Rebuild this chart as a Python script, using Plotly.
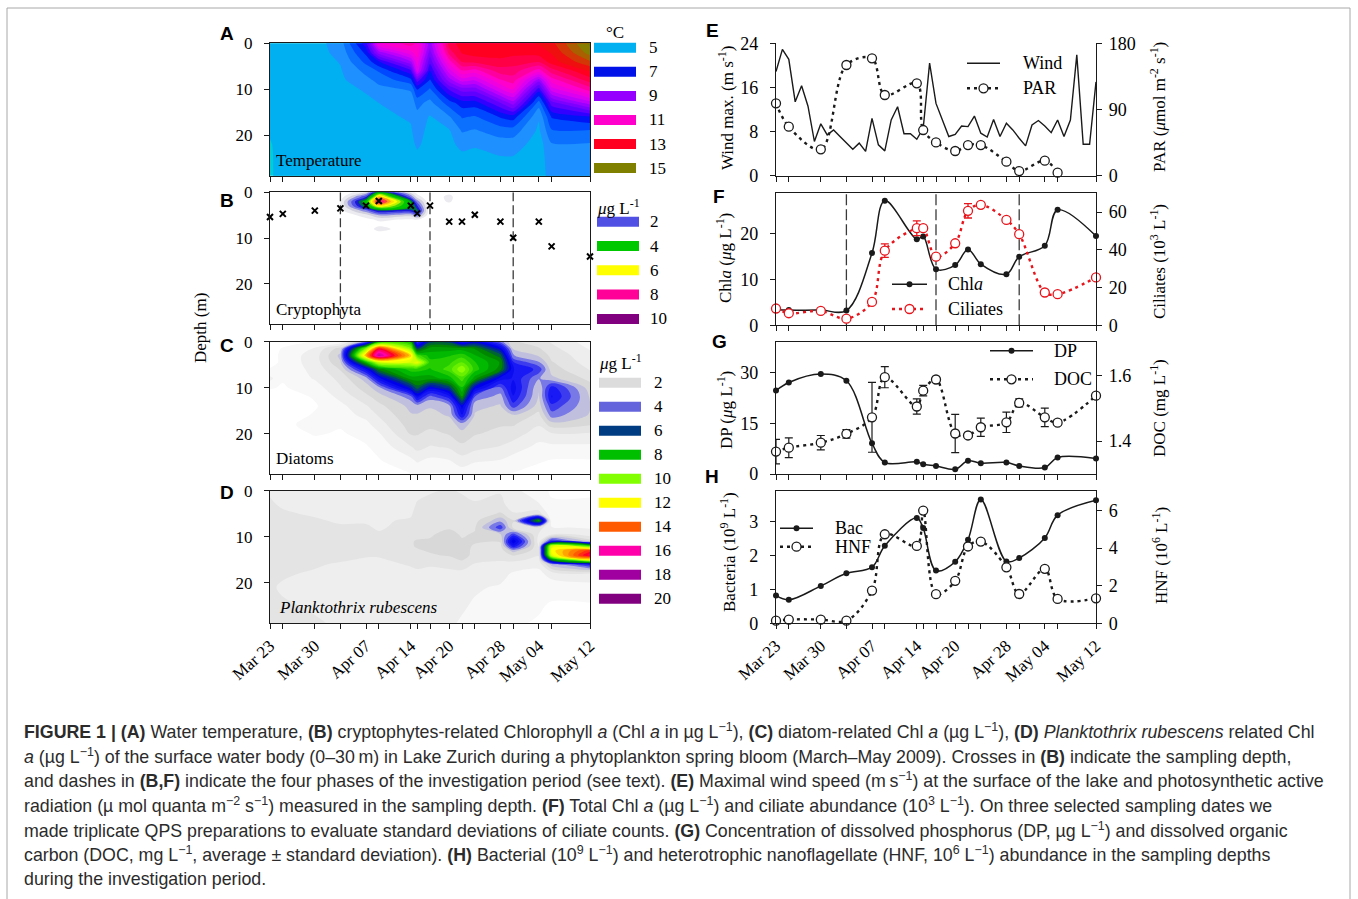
import numpy as np
import pandas as pd
import plotly.graph_objects as go

W, H = 1358, 899

# ---------------------------------------------------------------- data
sample_dates = ["2009-03-23", "2009-03-25", "2009-03-30", "2009-04-03", "2009-04-07",
                "2009-04-09", "2009-04-14", "2009-04-15", "2009-04-17", "2009-04-20",
                "2009-04-22", "2009-04-24", "2009-04-28", "2009-04-30", "2009-05-04",
                "2009-05-06", "2009-05-12"]
date_labels = {"2009-03-23": "Mar 23", "2009-03-30": "Mar 30", "2009-04-07": "Apr 07",
               "2009-04-14": "Apr 14", "2009-04-20": "Apr 20", "2009-04-28": "Apr 28",
               "2009-05-04": "May 04", "2009-05-12": "May 12"}
phase_dates = ["2009-04-03", "2009-04-17", "2009-04-30"]

# (A) water temperature (deg C), one profile per sampling date
temp_depths = [0, 2, 4, 6, 8, 10, 13, 16, 19, 22, 25, 29]
temp_profiles = [
    [5.1, 5.1, 5.05, 5.0, 5.0, 5.0, 4.95, 4.9, 4.8, 4.72, 4.7, 4.7],
    [5.15, 5.1, 5.05, 5.0, 5.0, 5.0, 4.95, 4.95, 4.9, 4.9, 4.9, 4.9],
    [5.05, 5.05, 5.0, 5.0, 5.0, 5.0, 4.95, 4.95, 4.95, 4.9, 4.9, 4.9],
    [5.5, 5.4, 5.28, 5.2, 5.15, 5.1, 5.05, 5.0, 5.0, 4.95, 4.95, 4.95],
    [7.6, 6.9, 6.4, 5.9, 5.6, 5.3, 5.15, 5.05, 5.0, 4.95, 4.95, 4.95],
    [10.8, 9.0, 7.2, 6.3, 5.9, 5.6, 5.25, 5.15, 5.05, 5.0, 4.95, 4.95],
    [11.5, 10.6, 9.2, 7.6, 6.6, 5.8, 5.5, 5.3, 5.2, 5.1, 5.0, 5.0],
    [11.2, 11.0, 10.5, 10.0, 8.0, 6.8, 5.9, 5.6, 5.45, 5.33, 5.1, 5.0],
    [9.0, 8.5, 7.9, 7.2, 6.7, 6.2, 5.6, 5.2, 5.1, 5.05, 5.0, 5.0],
    [12.5, 12.0, 11.0, 10.0, 9.0, 7.8, 6.5, 5.7, 5.2, 5.1, 5.0, 5.0],
    [13.0, 12.8, 12.3, 11.2, 10.0, 8.5, 7.0, 6.3, 5.8, 5.4, 5.1, 5.0],
    [13.2, 13.0, 12.4, 11.0, 9.8, 8.5, 7.0, 6.2, 5.7, 5.3, 5.1, 5.0],
    [13.2, 13.0, 12.6, 12.0, 11.2, 10.2, 8.2, 6.8, 6.0, 5.5, 5.2, 5.1],
    [13.1, 12.9, 12.5, 12.0, 11.5, 10.8, 9.0, 7.0, 6.0, 5.5, 5.2, 5.1],
    [13.3, 13.0, 12.3, 11.0, 9.0, 7.5, 6.0, 5.3, 5.15, 5.0, 4.95, 4.95],
    [13.6, 13.3, 13.0, 12.0, 11.0, 10.0, 8.0, 6.8, 6.2, 5.7, 5.6, 5.5],
    [15.4, 15.0, 14.2, 13.3, 12.5, 11.5, 9.5, 7.2, 6.2, 5.7, 5.6, 5.5],
]

# (B) cryptophyte Chl a (ug/L) and sampling depth (m)
crypto_depths = [0, 1, 2, 3, 4, 5, 6, 7, 8, 9, 10, 29]
crypto_profiles = [
    [0, 0, 0, 0, 0, 0, 0, 0, 0, 0, 0, 0],
    [0, 0, 0, 0, 0, 0, 0, 0, 0, 0, 0, 0],
    [0, 0, 0, 0, 0, 0, 0, 0, 0, 0, 0, 0],
    [0, 0.2, 0.5, 0.5, 0.3, 0, 0, 0, 0, 0, 0, 0],
    [1.0, 2.5, 4.0, 3.5, 1.8, 0.8, 0.3, 0, 0, 0, 0, 0],
    [4.0, 6.5, 8.3, 6.0, 3.0, 1.5, 0.6, 0.3, 0.8, 0.2, 0, 0],
    [0.8, 2.0, 3.5, 3.8, 2.8, 1.2, 0.4, 0, 0, 0, 0, 0],
    [0.3, 0.8, 1.8, 2.6, 3.2, 2.0, 0.5, 0, 0, 0, 0, 0],
    [0, 0, 0, 0, 0, 0, 0, 0, 0, 0, 0, 0],
    [0.3, 0.7, 0.6, 0.2, 0, 0, 0, 0, 0, 0, 0, 0],
    [0, 0, 0, 0, 0, 0, 0, 0, 0, 0, 0, 0],
    [0, 0, 0, 0, 0, 0, 0, 0, 0, 0, 0, 0],
    [0, 0, 0, 0, 0, 0, 0, 0, 0, 0, 0, 0],
    [0, 0, 0, 0, 0, 0, 0, 0, 0, 0, 0, 0],
    [0, 0, 0, 0, 0, 0, 0, 0, 0, 0, 0, 0],
    [0, 0, 0, 0, 0, 0, 0, 0, 0, 0, 0, 0],
    [0, 0, 0, 0, 0, 0, 0, 0, 0, 0, 0, 0],
]
sampling_depth = [5.4, 4.7, 4.0, 3.5, 2.9, 1.9, 2.9, 4.6, 2.9, 6.4, 6.4, 4.9, 6.4, 9.9, 6.4, 11.8, 14.0]

# (C) diatom Chl a (ug/L)
diatom_depths = [0, 1.5, 3, 4.5, 6, 8, 10, 12, 14, 16, 18, 20, 23, 26, 29]
diatom_profiles = [
    [0, 0, 0, 0, 0.3, 0.9, 0.3, 0, 0, 0, 0, 0, 0, 0, 0],
    [0, 0.3, 0.4, 0.4, 0.4, 0.3, 0.2, 0, 0, 0, 0, 0, 0, 0, 0],
    [0.3, 0.8, 1.0, 1.0, 0.9, 0.8, 0.5, 0.3, 0.2, 0.3, 0.6, 0.3, 0, 0, 0],
    [0.4, 2.0, 2.4, 2.2, 1.8, 1.4, 1.2, 0.9, 0.6, 0.5, 0.3, 0.2, 0, 0, 0],
    [3.0, 10.0, 13.0, 8.0, 4.5, 2.5, 2.0, 1.6, 1.2, 0.9, 0.6, 0.4, 0.2, 0, 0],
    [8.0, 15.0, 17.0, 11.0, 7.0, 4.5, 2.6, 2.0, 1.6, 1.3, 1.0, 0.7, 0.4, 0.2, 0],
    [8.0, 10.0, 12.5, 11.0, 8.5, 7.5, 5.5, 3.0, 2.4, 2.2, 2.0, 1.8, 1.2, 0.6, 0.2],
    [3.5, 6.0, 9.0, 11.5, 8.5, 7.5, 6.5, 4.5, 2.5, 2.2, 2.0, 1.8, 1.4, 0.8, 0.3],
    [6.0, 7.5, 8.0, 8.5, 8.2, 7.5, 5.0, 3.0, 2.3, 2.1, 1.9, 1.6, 1.2, 0.6, 0.2],
    [6.0, 7.5, 8.2, 8.6, 9.0, 8.0, 6.0, 4.0, 2.6, 2.3, 2.0, 1.8, 1.3, 0.7, 0.2],
    [4.0, 7.5, 8.5, 9.3, 10.2, 9.0, 8.2, 7.2, 5.0, 4.2, 2.5, 2.1, 1.6, 1.0, 0.4],
    [5.0, 7.2, 7.8, 8.3, 8.5, 7.5, 5.0, 3.2, 2.4, 2.2, 2.0, 1.8, 1.4, 0.8, 0.3],
    [3.0, 5.0, 6.5, 7.2, 7.0, 4.5, 3.2, 2.5, 2.2, 2.0, 1.8, 1.6, 1.2, 0.7, 0.3],
    [1.8, 2.2, 2.8, 3.8, 4.3, 4.2, 4.5, 4.2, 3.5, 2.2, 1.8, 1.5, 1.0, 0.5, 0.2],
    [1.5, 1.8, 2.2, 2.8, 3.6, 2.8, 2.3, 2.2, 2.0, 1.6, 1.3, 1.0, 0.6, 0.3, 0],
    [1.2, 1.4, 1.6, 1.8, 2.0, 2.4, 4.0, 4.3, 3.6, 3.0, 2.0, 1.2, 0.6, 0.2, 0],
    [0.5, 0.7, 0.9, 1.0, 1.2, 1.6, 2.0, 2.2, 2.3, 2.2, 1.8, 1.2, 0.6, 0.2, 0],
]

# (D) Planktothrix rubescens Chl a (ug/L)
plankto_depths = [0, 3, 5, 6.5, 8, 9.5, 11, 12, 13, 14, 15, 16, 18, 21, 25, 29]
plankto_profiles = [
    [1.2, 1.3, 1.3, 1.4, 1.4, 1.5, 1.6, 1.7, 1.7, 1.6, 1.5, 1.5, 1.4, 1.3, 1.4, 1.6],
    [1.1, 1.2, 1.3, 1.3, 1.4, 1.4, 1.5, 1.6, 1.6, 1.5, 1.4, 1.4, 1.3, 1.2, 1.3, 1.4],
    [1.0, 1.1, 1.2, 1.3, 1.3, 1.4, 1.5, 1.5, 1.5, 1.4, 1.3, 1.3, 1.2, 1.2, 1.2, 1.3],
    [1.0, 1.1, 1.2, 1.2, 1.3, 1.4, 1.5, 1.5, 1.4, 1.4, 1.3, 1.2, 1.1, 1.1, 1.1, 1.2],
    [0.9, 1.0, 1.1, 1.2, 1.3, 1.3, 1.4, 1.4, 1.4, 1.3, 1.2, 1.1, 1.0, 1.0, 1.0, 1.1],
    [0.8, 1.0, 1.1, 1.2, 1.2, 1.3, 1.4, 1.4, 1.3, 1.3, 1.2, 1.1, 1.0, 1.0, 1.0, 1.1],
    [1.0, 1.1, 1.2, 1.3, 1.4, 1.5, 1.7, 1.7, 1.6, 1.5, 1.4, 1.3, 1.1, 1.0, 1.0, 1.0],
    [1.1, 1.3, 1.4, 1.5, 1.5, 1.6, 1.8, 1.8, 1.7, 1.6, 1.5, 1.3, 1.2, 1.0, 1.0, 1.0],
    [1.2, 1.4, 1.5, 1.5, 1.6, 1.7, 1.8, 1.8, 1.8, 1.7, 1.5, 1.3, 1.1, 0.9, 0.9, 0.9],
    [1.3, 1.5, 1.6, 1.6, 1.7, 1.9, 2.1, 2.0, 1.9, 1.8, 1.6, 1.4, 1.1, 0.9, 0.8, 0.8],
    [1.2, 1.4, 1.5, 1.6, 1.6, 1.7, 1.8, 1.9, 2.0, 2.1, 1.8, 1.5, 1.1, 0.9, 0.8, 0.7],
    [1.1, 1.3, 1.5, 1.6, 1.7, 1.8, 1.8, 1.7, 1.6, 1.5, 1.4, 1.2, 1.0, 0.8, 0.7, 0.6],
    [1.2, 1.4, 1.8, 2.6, 3.6, 2.2, 1.8, 1.6, 1.5, 1.4, 1.3, 1.1, 0.9, 0.7, 0.6, 0.5],
    [0.9, 1.0, 1.3, 1.8, 1.6, 3.5, 5.2, 4.2, 2.5, 1.8, 1.4, 1.0, 0.7, 0.5, 0.4, 0.3],
    [0.4, 0.8, 1.5, 7.5, 1.5, 1.2, 1.0, 1.2, 1.4, 1.3, 1.1, 0.9, 0.6, 0.4, 0.3, 0.2],
    [0.2, 0.3, 0.4, 0.3, 0.8, 1.2, 4.0, 11.5, 12.0, 11.5, 7.0, 2.5, 1.0, 0.4, 0.2, 0.2],
    [0.2, 0.3, 0.4, 0.5, 0.7, 1.0, 2.0, 9.0, 14.5, 15.5, 12.0, 4.0, 1.2, 0.5, 0.2, 0.2],
]

# (E) daily maximal wind speed (m/s) from Mar 23, PAR at sampling dates
wind_start = "2009-03-23"
wind_max = [18.9, 22.9, 21.1, 13.4, 16.3, 12.6, 6.2, 9.4, 7.4, 8.3, 7.1, 5.9, 4.8, 5.9,
            4.4, 10.4, 5.6, 4.5, 10.1, 12.5, 7.6, 7.6, 6.6, 8.6, 20.4, 13.1, 10.1, 7.1,
            7.5, 9.0, 8.9, 10.8, 7.7, 7.0, 10.2, 7.1, 9.5, 8.3, 6.8, 5.4, 9.2, 10.0, 9.0,
            7.8, 10.1, 7.1, 10.1, 21.9, 5.7, 5.7, 17.0]
par = [98.4, 66.6, 35.8, 150.5, 159.6, 109.7, 125.6, 62.1, 45.3, 33.6, 41.7, 41.7,
       19.0, 6.3, 20.4, 4.1]

# (F) total Chl a (ug/L) and ciliates (10^3/L)
chl_total = [3.4, 3.3, 3.3, 3.2, 15.7, 27.1, 18.7, 19.3, 12.2, 13.1, 16.5, 13.3, 11.1,
             14.9, 17.3, 25.1, 19.4]
ciliates = [8.9, 6.4, 7.6, 3.5, 12.4, 39.6, 51.5, 51.5, 36.4, 43.5, 60.7, 63.9, 55.9,
            48.3, 17.4, 16.5, 25.4]
ciliate_sd_dates = ["2009-04-09", "2009-04-14", "2009-04-22"]
ciliate_sd = [3.6, 3.9, 3.8]

# (G) dissolved phosphorus (ug/L) and DOC (mg/L, mean +- sd)
dp = [24.7, 27.1, 29.6, 27.6, 9.1, 3.4, 3.6, 2.9, 2.4, 1.4, 3.9, 3.2, 3.4, 2.4, 1.9, 4.9, 4.6]
doc = [1.368, 1.380, 1.395, 1.422, 1.472, 1.594, 1.505, 1.553, 1.587, 1.423, 1.417,
       1.442, 1.457, 1.516, 1.472, 1.456, 1.538]
doc_sd = [0.037, 0.030, 0.022, 0.013, 0.106, 0.032, 0.023, 0.016, 0.005, 0.058, 0.005,
          0.028, 0.031, 0.012, 0.028, 0.008, 0.0]

# (H) bacteria (10^9/L) and HNF (10^6/L)
bacteria = [0.82, 0.69, 1.10, 1.47, 1.65, 2.28, 3.10, 2.80, 1.55, 1.81, 2.46, 3.64, 1.82,
            1.92, 2.51, 3.18, 3.62]
hnf = [0.14, 0.20, 0.20, 0.14, 1.74, 4.74, 4.12, 6.0, 1.55, 2.26, 4.09, 4.35, 2.98, 1.56,
       2.90, 1.30, 1.33]

# legend entries of the depth panels
temp_key = [5, 7, 9, 11, 13, 15]
crypto_key = [2, 4, 6, 8, 10]
chl_key = [2, 4, 6, 8, 10, 12, 14, 16, 18, 20]

# ---------------------------------------------------------------- styling
SERIF = "Liberation Serif, Times New Roman, serif"
SANS = "Liberation Sans, Arial, Helvetica, sans-serif"
CAPTION_FONT = "Liberation Sans, Arial, sans-serif"
INK = "#1a1a1a"
RED = "#e8141b"

temp_colors = [(0, 176, 240), (0, 18, 232), (150, 0, 255), (255, 0, 204), (255, 0, 32), (128, 128, 0)]
crypto_colors = [(80, 80, 228), (0, 200, 0), (255, 255, 0), (255, 0, 153), (128, 0, 128)]
chl_colors = [(220, 220, 220), (100, 100, 220), (0, 60, 130), (0, 190, 0), (130, 255, 0),
              (255, 255, 0), (255, 90, 0), (255, 0, 170), (160, 0, 160), (128, 0, 128)]

temp_anchor = [(4.5, (0, 205, 215)), (5.0, (0, 176, 240)), (5.5, (30, 144, 255)),
               (6.0, (12, 112, 255)), (6.5, (0, 72, 255)), (7.0, (0, 20, 245)),
               (7.5, (50, 0, 255)), (8.0, (95, 0, 255)), (8.5, (125, 0, 255)),
               (9.0, (153, 0, 255)), (9.5, (190, 0, 250)), (10.0, (220, 0, 240)),
               (10.5, (240, 0, 222)), (11.0, (255, 0, 204)), (11.5, (255, 0, 160)),
               (12.0, (255, 0, 115)), (12.5, (255, 0, 70)), (13.0, (255, 0, 32)),
               (13.5, (240, 15, 15)), (14.0, (210, 55, 5)), (14.5, (170, 95, 0)),
               (15.0, (135, 125, 0)), (15.5, (120, 125, 0))]
crypto_anchor = [(0.25, (255, 255, 255)), (0.75, (236, 236, 240)), (1.25, (208, 208, 222)),
                 (1.75, (140, 140, 228)), (2.25, (80, 80, 232)), (2.75, (25, 25, 215)),
                 (3.25, (0, 110, 70)), (3.75, (0, 185, 0)), (4.5, (0, 205, 0)),
                 (5.25, (190, 240, 0)), (5.75, (255, 255, 0)), (6.5, (255, 210, 0)),
                 (7.25, (255, 70, 60)), (8.0, (255, 0, 150)), (9.0, (190, 0, 150)),
                 (10.0, (128, 0, 128)), (10.75, (110, 0, 110))]
chl_anchor = [(0.0, (255, 255, 255)), (0.5, (248, 248, 248)), (1.0, (238, 238, 238)),
              (1.5, (228, 228, 228)), (2.0, (216, 216, 216)), (2.5, (192, 192, 222)),
              (3.0, (120, 120, 230)), (3.5, (60, 60, 238)), (4.0, (25, 25, 245)),
              (5.0, (0, 0, 235)), (5.5, (0, 30, 170)), (6.0, (0, 60, 125)),
              (6.5, (0, 100, 50)), (7.0, (0, 135, 0)), (8.0, (0, 185, 0)),
              (9.0, (70, 225, 0)), (10.0, (140, 255, 0)), (11.0, (210, 255, 0)),
              (12.0, (255, 255, 0)), (13.0, (255, 165, 0)), (14.0, (255, 90, 0)),
              (15.0, (255, 0, 40)), (16.0, (255, 0, 170)), (17.0, (190, 0, 150)),
              (18.0, (160, 0, 160)), (20.0, (128, 0, 128)), (20.5, (115, 0, 115))]


def rgb(c):
    return "rgb(%d,%d,%d)" % tuple(int(round(v)) for v in c)


def band_scale(start, end, size, anchors):
    """Colour of every filled band (band k is centred on start - size/2 + k*size)."""
    n = int(round((end - start) / size)) + 1
    av = [a[0] for a in anchors]
    out = []
    for k in range(n + 1):
        v = start - size / 2 + k * size
        col = [np.interp(v, av, [a[1][ch] for a in anchors]) for ch in range(3)]
        out.append([k / n, rgb(col)])
    return out


def px(x):
    return x / W


def py(y):
    return 1 - y / H


def xdom(a, b):
    return [a / W, b / W]


def ydom(top, bottom):
    return [1 - bottom / H, 1 - top / H]


axis_style = dict(showline=True, linecolor=INK, linewidth=1.2, ticks="outside", ticklen=5,
                  tickwidth=1.2, tickcolor=INK, showgrid=False, zeroline=False,
                  automargin=False)

left_x = (270, 590)
right_x = (776, 1096)
left_rows = [(43.3, 175.7), (192.3, 324.3), (341.7, 474.0), (490.7, 623.3)]
right_rows = [(43.3, 175.7), (193.3, 325.3), (342.3, 474.0), (490.7, 623.3)]
major_dates = [d for d in sample_dates if d in date_labels]
minor_dates = [d for d in sample_dates if d not in date_labels]
xrange_ = [sample_dates[0], sample_dates[-1]]
minor_ticks = dict(tickmode="array", tickvals=minor_dates, ticks="outside", ticklen=5,
                   tickwidth=1.2, tickcolor=INK, showgrid=False)


def date_axis(domain, labelled, mirror, anchor):
    return dict(axis_style, type="date", domain=domain, range=xrange_,
                tickmode="array", tickvals=major_dates,
                ticktext=[date_labels[d] for d in major_dates],
                showticklabels=labelled, tickangle=-42, minor=minor_ticks,
                tickfont=dict(family=SERIF, size=17, color="black"),
                mirror=mirror, anchor=anchor)


fig = go.Figure()
layout = {}
shapes = []
annotations = []


def ax(i):
    return "" if i == 1 else str(i)


# ---- left column axes (A-D)
for i in range(1, 5):
    layout["xaxis" + ax(i)] = date_axis(xdom(*left_x), i == 4, True, "y" + ax(i))
    layout["yaxis" + ax(i)] = dict(axis_style, domain=ydom(*left_rows[i - 1]), range=[28.8, 0],
                                   tickmode="array", tickvals=[0, 10, 20], mirror=True,
                                   anchor="x" + ax(i), ticklabelstandoff=8,
                                   tickfont=dict(family=SERIF, size=17, color="black"))

# ---- right column axes (E-H)
right_ranges = [([0, 24], [0, 8, 16, 24], [0, 180], [0, 90, 180]),
                ([0, 28.7], [0, 10, 20], [0, 70], [0, 20, 40, 60]),
                ([0, 39], [0, 15, 30], [1.3, 1.7], [1.4, 1.6]),
                ([0, 3.9], [0, 1, 2, 3], [0, 7.06], [0, 2, 4, 6])]
for k in range(4):
    xi, yl, yr = 5 + k, 5 + 2 * k, 6 + 2 * k
    lr, lt, rr, rt = right_ranges[k]
    layout["xaxis%d" % xi] = date_axis(xdom(*right_x), k == 3, k > 0, "y%d" % yl)
    layout["yaxis%d" % yl] = dict(axis_style, domain=ydom(*right_rows[k]), range=lr,
                                  tickmode="array", tickvals=lt, anchor="x%d" % xi,
                                  ticklabelstandoff=8,
                                  tickfont=dict(family=SERIF, size=18, color="black"))
    layout["yaxis%d" % yr] = dict(axis_style, domain=ydom(*right_rows[k]), range=rr,
                                  tickmode="array", tickvals=rt, anchor="x%d" % xi,
                                  overlaying="y%d" % yl, side="right", ticklabelstandoff=3,
                                  tickfont=dict(family=SERIF, size=18, color="black"))


# ---------------------------------------------------------------- contour panels
def contour(profiles, depths, start, end, size, anchors, axis_i, smooth):
    z = np.array(profiles, dtype=float).T
    return go.Contour(x=sample_dates, y=depths, z=z, autocontour=False,
                      contours=dict(start=start, end=end, size=size, coloring="fill",
                                    showlines=False),
                      line=dict(width=0, smoothing=smooth),
                      colorscale=band_scale(start, end, size, anchors), showscale=False,
                      hoverinfo="skip", xaxis="x" + ax(axis_i), yaxis="y" + ax(axis_i))


fig.add_trace(contour(temp_profiles, temp_depths, 4.75, 15.25, 0.5, temp_anchor, 1, 0.6))
fig.add_trace(contour(crypto_profiles, crypto_depths, 0.5, 10.5, 0.5, crypto_anchor, 2, 1.0))
fig.add_trace(contour(diatom_profiles, diatom_depths, 0.25, 20.25, 0.5, chl_anchor, 3, 1.0))
fig.add_trace(contour(plankto_profiles, plankto_depths, 0.25, 20.25, 0.5, chl_anchor, 4, 1.0))

# phase boundaries in (B) and (F)
for d in phase_dates:
    fig.add_trace(go.Scatter(x=[d, d], y=[0, 28.8], mode="lines", xaxis="x2", yaxis="y2",
                             line=dict(color="#3a3a3a", width=1.3, dash="9px,4px"),
                             hoverinfo="skip"))
    fig.add_trace(go.Scatter(x=[d, d], y=[0, 28.7], mode="lines", xaxis="x6", yaxis="y7",
                             line=dict(color="#3a3a3a", width=1.3, dash="11px,4px"),
                             hoverinfo="skip"))

# sampling depth crosses
fig.add_trace(go.Scatter(x=sample_dates, y=sampling_depth, mode="markers", xaxis="x2",
                         yaxis="y2", cliponaxis=False, hoverinfo="skip",
                         marker=dict(symbol="x-thin", size=6, line=dict(width=2, color="black"))))

# ---------------------------------------------------------------- line panels
wind_dates = pd.date_range(wind_start, periods=len(wind_max), freq="D").strftime("%Y-%m-%d")
DOT = "3px,4px"
open_marker = dict(symbol="circle", size=9, color="white", line=dict(width=1.3, color=INK))
dot_marker = dict(symbol="circle", size=6, color=INK)

# (E)
fig.add_trace(go.Scatter(x=wind_dates, y=wind_max, mode="lines", xaxis="x5", yaxis="y5",
                         line=dict(color=INK, width=1.4), cliponaxis=False, hoverinfo="skip"))
fig.add_trace(go.Scatter(x=sample_dates[:len(par)], y=par, mode="lines+markers", xaxis="x5",
                         yaxis="y6", line=dict(color=INK, width=2.4, dash=DOT, shape="spline",
                                               smoothing=1.0),
                         marker=open_marker, cliponaxis=False, hoverinfo="skip"))

# (F)
fig.add_trace(go.Scatter(x=sample_dates, y=chl_total, mode="lines+markers", xaxis="x6",
                         yaxis="y7", line=dict(color=INK, width=1.5, shape="spline", smoothing=1.0),
                         marker=dot_marker, cliponaxis=False, hoverinfo="skip"))
sd_idx = [sample_dates.index(d) for d in ciliate_sd_dates]
fig.add_trace(go.Scatter(x=ciliate_sd_dates, y=[ciliates[i] for i in sd_idx], mode="markers",
                         xaxis="x6", yaxis="y8", marker=dict(size=1, color="rgba(0,0,0,0)"),
                         error_y=dict(type="data", array=ciliate_sd, color=RED, thickness=1.3,
                                      width=4),
                         cliponaxis=False, hoverinfo="skip"))
fig.add_trace(go.Scatter(x=sample_dates, y=ciliates, mode="lines+markers", xaxis="x6",
                         yaxis="y8", line=dict(color=RED, width=2.4, dash=DOT, shape="spline",
                                               smoothing=1.0),
                         marker=dict(symbol="circle", size=9, color="white",
                                     line=dict(width=1.3, color=RED)),
                         cliponaxis=False, hoverinfo="skip"))

# (G)
fig.add_trace(go.Scatter(x=sample_dates, y=dp, mode="lines+markers", xaxis="x7", yaxis="y9",
                         line=dict(color=INK, width=1.5, shape="spline", smoothing=1.0),
                         marker=dot_marker, cliponaxis=False, hoverinfo="skip"))
fig.add_trace(go.Scatter(x=sample_dates, y=doc, mode="lines+markers", xaxis="x7", yaxis="y10",
                         line=dict(color=INK, width=2.4, dash=DOT, shape="spline", smoothing=1.0),
                         marker=open_marker,
                         error_y=dict(type="data", array=doc_sd, color=INK, thickness=1.2, width=4),
                         cliponaxis=False, hoverinfo="skip"))

# (H)
fig.add_trace(go.Scatter(x=sample_dates, y=bacteria, mode="lines+markers", xaxis="x8",
                         yaxis="y11", line=dict(color=INK, width=1.5, shape="spline", smoothing=1.0),
                         marker=dot_marker, cliponaxis=False, hoverinfo="skip"))
fig.add_trace(go.Scatter(x=sample_dates, y=hnf, mode="lines+markers", xaxis="x8", yaxis="y12",
                         line=dict(color=INK, width=2.4, dash=DOT, shape="spline", smoothing=1.0),
                         marker=open_marker, cliponaxis=False, hoverinfo="skip"))


# ---------------------------------------------------------------- texts & keys
def text(x, y, s, size=17, family=SERIF, anchor="left", angle=0, color="black", yanchor="middle"):
    annotations.append(dict(x=px(x), y=py(y), xref="paper", yref="paper", text=s,
                            showarrow=False, xanchor=anchor, yanchor=yanchor, textangle=angle,
                            font=dict(family=family, size=size, color=color)))


# panel letters
for letter, x, y in [("A", 227, 34), ("B", 227, 200), ("C", 227, 345), ("D", 227, 492),
                     ("E", 712, 31), ("F", 719, 197), ("G", 719, 341), ("H", 712, 477)]:
    text(x, y, "<b>%s</b>" % letter, size=19, family=SANS, anchor="center")

# panel names inside the depth plots
text(274, 161, "Temperature")
text(274, 309, "Cryptophyta")
text(274, 458, "Diatoms")
text(277, 607, "<i>Planktothrix rubescens</i>")

# axis titles
text(200, 328, "Depth (m)", angle=-90, anchor="center")
text(726, 108, "Wind max. (m s<sup>-1</sup>)", angle=-90, anchor="center")
text(1158, 107, "PAR (<i>μ</i>mol m<sup>-2</sup> s<sup>-1</sup>)", angle=-90, anchor="center")
text(724, 258, "Chl<i>a</i> (<i>μ</i>g L<sup>-1</sup>)", angle=-90, anchor="center")
text(1158, 262, "Ciliates (10<sup>3</sup> L<sup>-1</sup>)", angle=-90, anchor="center")
text(725, 410, "DP (<i>μ</i>g L<sup>-1</sup>)", angle=-90, anchor="center")
text(1158, 408, "DOC (mg L<sup>-1</sup>)", angle=-90, anchor="center")
text(728, 552, "Bacteria (10<sup>9</sup> L<sup>-1</sup>)", angle=-90, anchor="center")
text(1160, 556, "HNF (10<sup>6</sup> L<sup>-1</sup>)", angle=-90, anchor="center")


# colour keys of the depth panels
def colour_key(x0, title_y, title, first_y, step, labels, colors, label_x):
    text(x0 + 21, title_y, title, anchor="center")
    for j, (lab, col) in enumerate(zip(labels, colors)):
        yc = first_y + j * step
        shapes.append(dict(type="rect", xref="paper", yref="paper", x0=px(x0), x1=px(x0 + 42),
                           y0=py(yc + 5), y1=py(yc - 5), fillcolor=rgb(col),
                           line=dict(width=0)))
        text(label_x, yc, str(lab))


colour_key(594, 33, "°C", 47.8, 24.05, temp_key, temp_colors, 647)
colour_key(597, 207, "<i>μ</i>g L<sup>-1</sup>", 221.7, 24.3, crypto_key, crypto_colors, 648)
colour_key(599, 362, "<i>μ</i>g L<sup>-1</sup>", 382.8, 24.0, chl_key, chl_colors, 652)


# keys of the line panels
def key_item(xa, xb, y, color, dash, width, marker, label, label_x):
    shapes.append(dict(type="line", xref="paper", yref="paper", x0=px(xa), x1=px(xb),
                       y0=py(y), y1=py(y), line=dict(color=color, width=width, dash=dash)))
    xc = (xa + xb) / 2
    if marker == "dot":
        r = 3
        shapes.append(dict(type="circle", xref="paper", yref="paper", x0=px(xc - r),
                           x1=px(xc + r), y0=py(y + r), y1=py(y - r), fillcolor=color,
                           line=dict(width=0)))
    elif marker == "open":
        r = 4.5
        shapes.append(dict(type="circle", xref="paper", yref="paper", x0=px(xc - r),
                           x1=px(xc + r), y0=py(y + r), y1=py(y - r), fillcolor="white",
                           line=dict(width=1.3, color=color)))
    text(label_x, y, label, size=18)


key_item(967, 1000, 63.3, INK, "solid", 1.4, None, "Wind", 1021)
key_item(967, 1000, 88.3, INK, DOT, 2.4, "open", "PAR", 1021)
key_item(892, 927, 284.3, INK, "solid", 1.5, "dot", "Chl<i>a</i>", 946)
key_item(892, 927, 309.0, RED, DOT, 2.4, "open", "Ciliates", 946)
key_item(990, 1033, 350.7, INK, "solid", 1.5, "dot", "DP", 1052)
key_item(990, 1033, 379.3, INK, DOT, 2.4, "open", "DOC", 1052)
key_item(780, 813, 528.3, INK, "solid", 1.5, "dot", "Bac", 833)
key_item(780, 813, 546.7, INK, DOT, 2.4, "open", "HNF", 833)

# ---------------------------------------------------------------- caption
MU = "µ"
M1 = "<sup>−1</sup>"
caption = [
    "<b>FIGURE 1 | (A)</b> Water temperature, <b>(B)</b> cryptophytes-related Chlorophyll <i>a</i> "
    "(Chl <i>a</i> in %sg L%s), <b>(C)</b> diatom-related Chl <i>a</i> (%sg L%s), <b>(D)</b> "
    "<i>Planktothrix rubescens</i> related Chl" % (MU, M1, MU, M1),
    "<i>a</i> (%sg L%s) of the surface water body (0–30\u2009m) in Lake Zurich during a "
    "phytoplankton spring bloom (March–May 2009). Crosses in <b>(B)</b> indicate the sampling depth,"
    % (MU, M1),
    "and dashes in <b>(B,F)</b> indicate the four phases of the investigation period (see text). "
    "<b>(E)</b> Maximal wind speed (m\u2009s%s) at the surface of the lake and photosynthetic active"
    % M1,
    "radiation (%s mol quanta m<sup>−2</sup> s%s) measured in the sampling depth. <b>(F)</b> Total "
    "Chl <i>a</i> (%sg L%s) and ciliate abundance (10<sup>3</sup> L%s). On three selected sampling "
    "dates we" % (MU, M1, MU, M1, M1),
    "made triplicate QPS preparations to evaluate standard deviations of ciliate counts. <b>(G)</b> "
    "Concentration of dissolved phosphorus (DP, %sg L%s) and dissolved organic" % (MU, M1),
    "carbon (DOC, mg L%s, average ± standard deviation). <b>(H)</b> Bacterial (10<sup>9</sup> L%s) "
    "and heterotrophic nanoflagellate (HNF, 10<sup>6</sup> L%s) abundance in the sampling depths"
    % (M1, M1, M1),
    "during the investigation period.",
]
caption_y = [731, 755.7, 780, 805, 830, 854.3, 879.3]
for line, y in zip(caption, caption_y):
    text(22, y, line, size=17.8, family=CAPTION_FONT, color="#2b2b2b")

# page frame
frame = "#a8a8a8"
shapes.append(dict(type="line", xref="paper", yref="paper", x0=px(7), x1=px(7), y0=py(8),
                   y1=py(899), line=dict(color=frame, width=1)))
shapes.append(dict(type="line", xref="paper", yref="paper", x0=px(7), x1=px(1350), y0=py(8),
                   y1=py(8), line=dict(color=frame, width=1)))
shapes.append(dict(type="line", xref="paper", yref="paper", x0=px(1350), x1=px(1350),
                   y0=py(8), y1=py(899), line=dict(color=frame, width=1)))

fig.update_layout(template="none", width=W, height=H, autosize=False,
                  margin=dict(l=0, r=0, t=0, b=0, pad=0), paper_bgcolor="white",
                  plot_bgcolor="white", showlegend=False, shapes=shapes,
                  annotations=annotations, **layout)

fig.write_html("out.html")
